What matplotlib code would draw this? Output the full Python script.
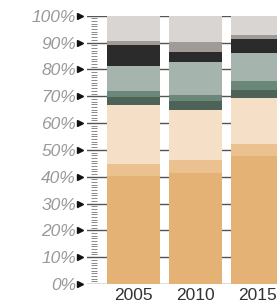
import matplotlib
matplotlib.use("Agg")
import matplotlib.pyplot as plt
import matplotlib.transforms as mtransforms
import numpy as np

years = ["2005", "2010", "2015"]
# stacked shares (%) bottom -> top
s1 = [40.4, 41.5, 47.7]
s2 = [4.3, 4.7, 4.5]
s3 = [22.0, 18.7, 17.1]
s4 = [3.0, 3.4, 3.1]
s5 = [2.2, 2.1, 3.3]
s6 = [9.5, 12.3, 10.4]
s7 = [7.7, 3.8, 5.2]
s8 = [1.5, 3.7, 1.5]
s9 = [9.4, 9.8, 7.2]
series = [s1, s2, s3, s4, s5, s6, s7, s8, s9]
colors = ["#e4b274", "#ebc18f", "#f5e0c7", "#4d6357", "#6b877a",
          "#a5b5ad", "#2b2b2b", "#a09b97", "#d8d5d2"]
ytick_vals = list(range(0, 101, 10))
ytick_labels = [f"{v}%" for v in ytick_vals]

plt.rcParams['font.family'] = ['Liberation Sans', 'DejaVu Sans']

fig = plt.figure(figsize=(2.77, 3.05), dpi=100)
ax = fig.add_axes([87/277, 21/305, 1 - 87/277, (284 - 15.7)/305])

x = np.arange(len(years))
bottom = np.zeros(len(years))
for vals, c in zip(series, colors):
    ax.bar(x, vals, width=0.85, bottom=bottom, color=c, edgecolor='none', zorder=3)
    bottom += np.array(vals)

ax.set_xlim(-0.74, 2.31)
ax.set_ylim(0, 100)

for v in ytick_vals:
    ax.axhline(v, color='#555555', lw=1.0, zorder=1)

trans = mtransforms.blended_transform_factory(ax.transAxes, ax.transData)
minor = [v for v in range(0, 101) if v % 10 != 0]
ax.hlines(minor, 0.021, 0.053, transform=trans, color='#8a8a8a', lw=0.7, zorder=2)
ax.plot([-0.035] * len(ytick_vals), ytick_vals, linestyle='none', marker='>',
        markersize=4, color='#111111', transform=trans, clip_on=False)

ax.set_yticks(ytick_vals)
ax.set_yticklabels(ytick_labels, fontsize=12.5, style='italic', color='#999999')
ax.tick_params(axis='y', length=0, pad=8)
ax.set_xticks(x)
ax.set_xticklabels(years, fontsize=12.5, color='#333333')
ax.tick_params(axis='x', length=0, pad=3)
for sp in ax.spines.values():
    sp.set_visible(False)

fig.savefig("out.png", dpi=100)
